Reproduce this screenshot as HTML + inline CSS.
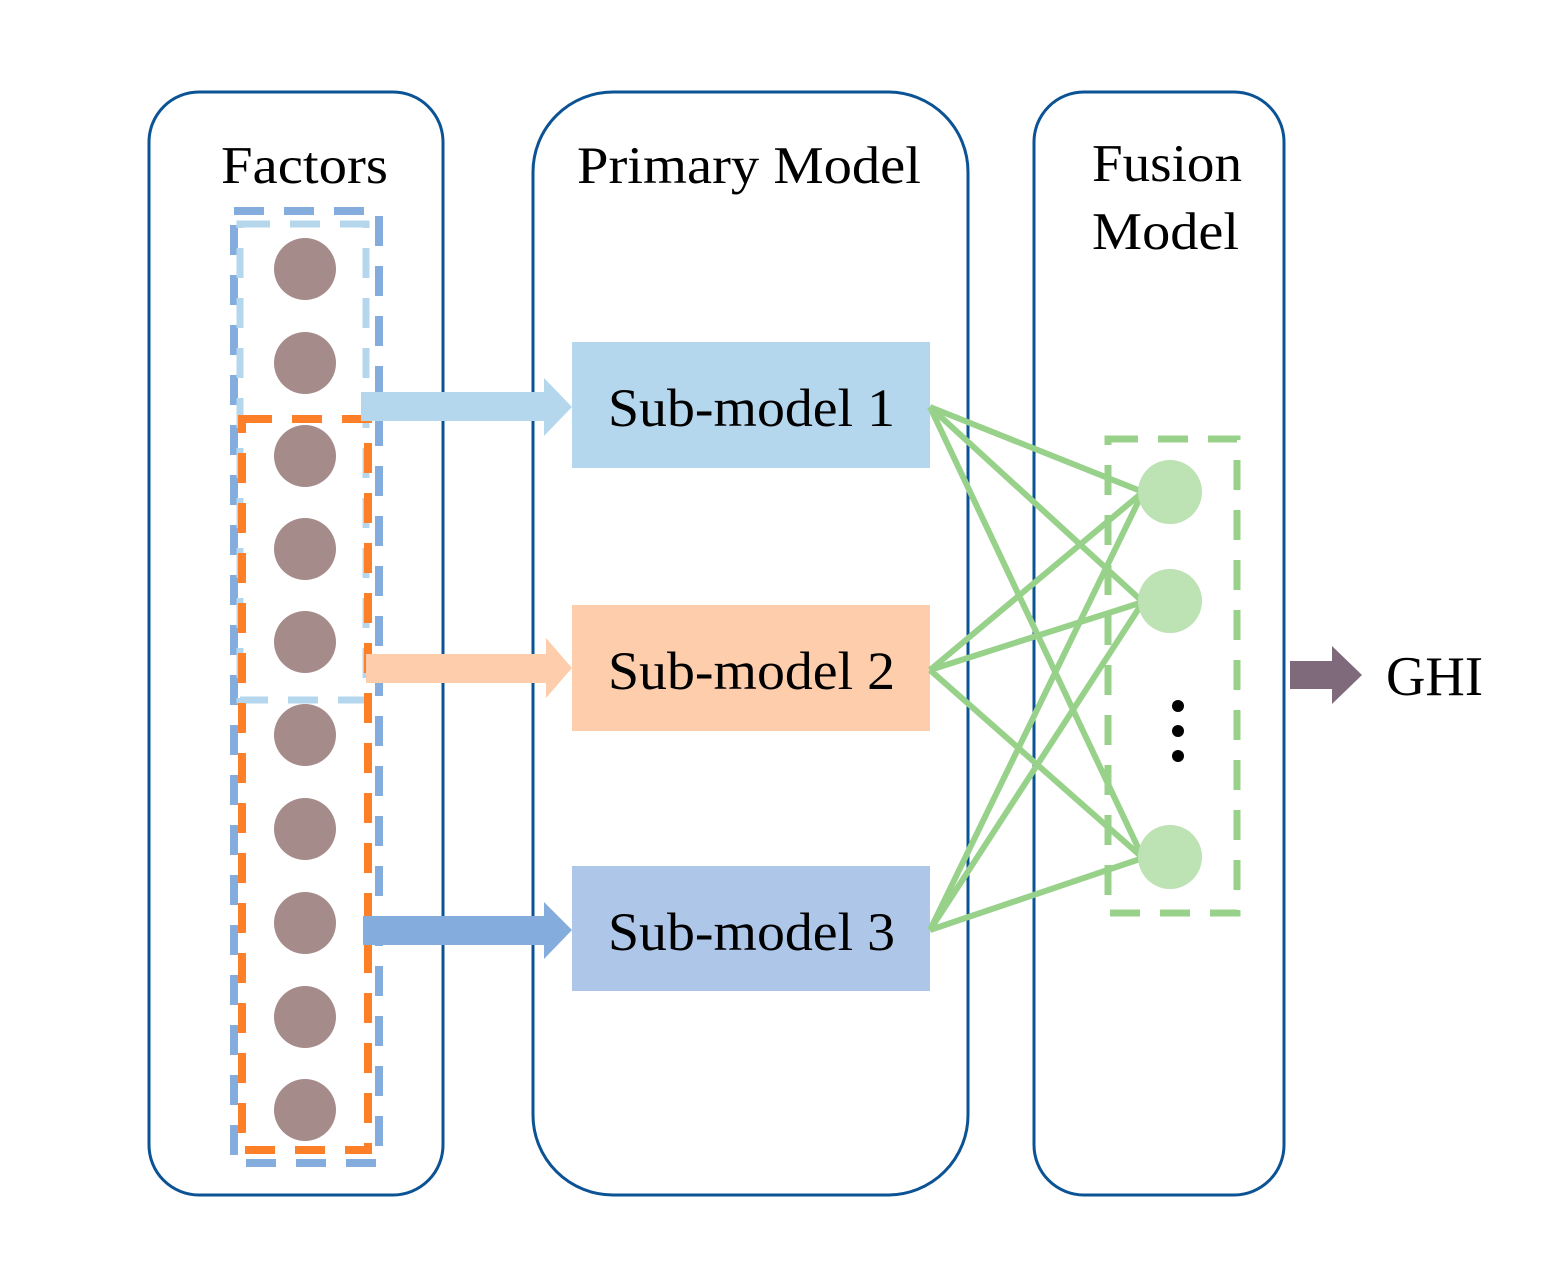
<!DOCTYPE html>
<html><head><meta charset="utf-8"><style>html,body{margin:0;padding:0;background:#fff}svg{display:block}</style></head>
<body>
<svg width="1549" height="1264" viewBox="0 0 1549 1264" xmlns="http://www.w3.org/2000/svg" font-family="'Liberation Serif', serif">
<g fill="none" stroke="#0b5394" stroke-width="3">
<rect x="149" y="92" width="294" height="1103" rx="50"/>
<rect x="533" y="92" width="435" height="1103" rx="80"/>
<rect x="1034" y="92" width="250" height="1103" rx="50"/>
</g>
<g font-size="53" fill="#000">
<text x="221" y="183" textLength="167" lengthAdjust="spacingAndGlyphs">Factors</text>
<text x="577" y="183" textLength="344" lengthAdjust="spacingAndGlyphs">Primary Model</text>
<text x="1092" y="181" textLength="150" lengthAdjust="spacingAndGlyphs">Fusion</text>
<text x="1092" y="249" textLength="147" lengthAdjust="spacingAndGlyphs">Model</text>
</g>
<rect x="572" y="342" width="358" height="126" fill="#b4d7ee"/>
<rect x="572" y="605" width="358" height="126" fill="#fdcdac"/>
<rect x="572" y="866" width="358" height="125" fill="#aec7e8"/>
<g font-size="54" fill="#000">
<text x="608" y="426" textLength="287" lengthAdjust="spacingAndGlyphs">Sub-model 1</text>
<text x="608" y="689" textLength="287" lengthAdjust="spacingAndGlyphs">Sub-model 2</text>
<text x="608" y="950" textLength="287" lengthAdjust="spacingAndGlyphs">Sub-model 3</text>
</g>
<g fill="#a68b8b">
<circle cx="305" cy="269" r="31"/><circle cx="305" cy="363" r="31"/><circle cx="305" cy="456" r="31"/><circle cx="305" cy="549" r="31"/><circle cx="305" cy="642" r="31"/><circle cx="305" cy="735" r="31"/><circle cx="305" cy="829" r="31"/><circle cx="305" cy="923" r="31"/><circle cx="305" cy="1017" r="31"/><circle cx="305" cy="1110" r="31"/>
</g>
<rect x="234" y="211" width="145" height="952" fill="none" stroke="#84acdc" stroke-width="8" stroke-dasharray="30,20"/>
<rect x="240" y="224" width="126" height="476" fill="none" stroke="#b4d7ee" stroke-width="7" stroke-dasharray="30,20"/>
<rect x="242" y="419" width="126" height="731" fill="none" stroke="#fd7f28" stroke-width="8" stroke-dasharray="30,20"/>
<polygon points="361,392 544,392 544,378 572,407 544,436 544,421 361,421" fill="#b4d7ee"/>
<polygon points="366,654 546,654 546,638 572,668 546,698 546,683 366,683" fill="#fdcdac"/>
<polygon points="363,916 544,916 544,902 572,930 544,959 544,945 363,945" fill="#84acdc"/>
<g stroke="#98d28a" stroke-width="6" fill="none">
<line x1="930" y1="407" x2="1143" y2="492"/><line x1="930" y1="407" x2="1143" y2="602"/><line x1="930" y1="407" x2="1143" y2="858"/>
<line x1="930" y1="670" x2="1143" y2="492"/><line x1="930" y1="670" x2="1143" y2="602"/><line x1="930" y1="670" x2="1143" y2="858"/>
<line x1="930" y1="930" x2="1143" y2="492"/><line x1="930" y1="930" x2="1143" y2="602"/><line x1="930" y1="930" x2="1143" y2="858"/>
</g>
<rect x="1108" y="439" width="129" height="474" fill="none" stroke="#98d28a" stroke-width="7" stroke-dasharray="30,20"/>
<g fill="#bde2b4">
<circle cx="1170" cy="492" r="32"/><circle cx="1170" cy="601" r="32"/><circle cx="1170" cy="857" r="32"/>
</g>
<g fill="#000"><circle cx="1178" cy="706" r="6"/><circle cx="1178" cy="731" r="6"/><circle cx="1178" cy="756" r="6"/></g>
<polygon points="1290,661 1332,661 1332,646 1362,675 1332,704 1332,689 1290,689" fill="#7f6a7b"/>
<text x="1386" y="695" font-size="56" fill="#000" textLength="97" lengthAdjust="spacingAndGlyphs">GHI</text>
</svg>
</body></html>
